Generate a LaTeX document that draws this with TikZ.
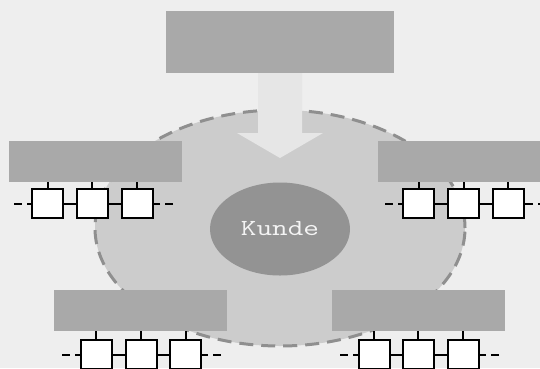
\documentclass[tikz,border=0pt]{standalone}
\usetikzlibrary{shapes.geometric}
\definecolor{bgc}{HTML}{EEEEEE}
\definecolor{zone}{HTML}{CCCCCC}
\definecolor{zoneedge}{HTML}{8F8F8F}
\definecolor{panel}{HTML}{A9A9A9}
\definecolor{core}{HTML}{939393}
\definecolor{flow}{HTML}{E6E6E6}
\definecolor{label}{HTML}{F4F4F4}
\tikzset{
  panelbox/.style={rectangle, fill=panel, inner sep=0pt, minimum height=41pt},
  cell/.style={rectangle, draw=black, fill=white, line width=2pt, inner sep=0pt,
               minimum width=31pt, minimum height=29pt},
  link/.style={draw=black, line width=2pt},
  linkend/.style={draw=black, line width=2pt, dash pattern=on 8pt off 5pt},
}
% a row of three cells hanging under a panel
% #1 prefix, #2 panel name, #3 y of the row, #4,#5,#6 cell centres, #7 left end, #8 right end
\newcommand{\cellrow}[8]{%
  \node[cell] (#1a) at (#4,#3) {};
  \node[cell] (#1b) at (#5,#3) {};
  \node[cell] (#1c) at (#6,#3) {};
  \coordinate (#1l) at (#7,#3);
  \coordinate (#1r) at (#8,#3);
  \draw[link] (#1a.east) -- (#1b.west) (#1b.east) -- (#1c.west);
  \draw[linkend] (#1l) -- (#1a.west);
  \draw[linkend] (#1r) -- (#1c.east);
  \foreach \k in {a,b,c} \draw[link] (#1\k.north) -- (#1\k.north |- #2.south);
}
\begin{document}
\begin{tikzpicture}[x=1pt,y=-1pt]
\fill[bgc] (0,0) rectangle (540,368);
\useasboundingbox (0,0) rectangle (540,368);
\begin{scope}
\clip (0,0) rectangle (540,368);
% customer zone
\node[ellipse, fill=zone, draw=zoneedge, line width=3pt, dash pattern=on 14pt off 8pt,
      minimum width=370pt, minimum height=236pt, inner sep=0pt] (zone) at (280,228) {};
% source panel and its flow arrow
\node[panelbox, minimum width=228pt, minimum height=62pt] (top) at (280,42) {};
\fill[flow] (258,73) -- (302,73) -- (302,133) -- (323,133) -- (280,158)
            -- (237,133) -- (258,133) -- cycle;
% customer
\node[ellipse, fill=core, minimum width=140pt, minimum height=93pt, inner sep=0pt,
      text=label, font=\ttfamily\fontsize{23}{26}\selectfont] (kunde) at (280,229)
      {\scalebox{1.32}[1]{Kunde}};
% side panels
\node[panelbox, minimum width=173pt] (pl) at (95.5,161.5) {};
\node[panelbox, minimum width=162pt] (pr) at (459,161.5) {};
\node[panelbox, minimum width=173pt] (bl) at (140.5,310.5) {};
\node[panelbox, minimum width=173pt] (br) at (418.5,310.5) {};
\cellrow{tl}{pl}{203.5}{47.5}{92}{137}{14}{173}
\cellrow{tr}{pr}{203.5}{418.5}{463.5}{508}{385}{546}
\cellrow{ul}{bl}{354.5}{96}{141}{185.5}{62}{221}
\cellrow{ur}{br}{354.5}{374}{418}{463}{340}{499}
\end{scope}
\end{tikzpicture}
\end{document}
